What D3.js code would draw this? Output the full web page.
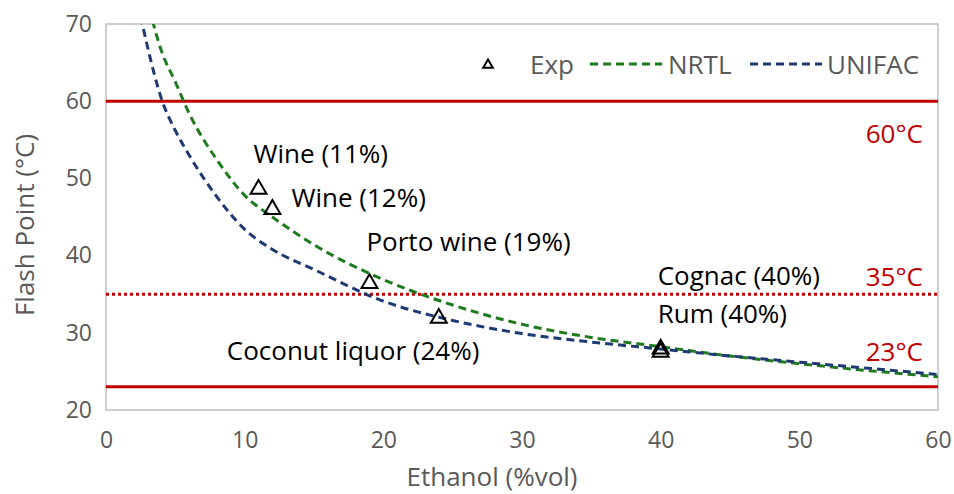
<!DOCTYPE html>
<html>
<head>
<meta charset="utf-8">
<script src="https://cdn.jsdelivr.net/npm/d3@7"></script>
<style>
  body { margin: 0; background: #fff; }
  text { font-family: "Open Sans", "Noto Sans", sans-serif; }
</style>
</head>
<body>
<svg width="954" height="494"></svg>
<script>
// ethanol content (%vol) and flash point (°C)
var nrtlX = [2.5, 3, 4, 5, 6, 8, 10, 12, 15, 20, 25, 30, 35, 40, 45, 50, 55, 60];
var nrtlY = [77, 73, 66.5, 62.5, 58.4, 52.4, 47.8, 45.0, 41.4, 36.9, 33.6, 31.1, 29.4, 28.2, 27.0, 26.0, 25.1, 24.3];

var unifacX = [2.5, 3, 4, 5, 6, 8, 10, 12, 15, 20, 25, 30, 35, 40, 45, 50, 55, 60];
var unifacY = [71, 67, 60.3, 56.2, 53.0, 47.6, 43.4, 40.8, 38.2, 34.1, 31.6, 29.9, 28.8, 27.9, 27.0, 26.2, 25.4, 24.6];

var expX = [11, 12, 19, 24, 40, 40];
var expY = [48.6, 46.0, 36.4, 31.9, 27.9, 27.5];
var expNames = ["Wine (11%)", "Wine (12%)", "Porto wine (19%)", "Coconut liquor (24%)", "Cognac (40%)", "Rum (40%)"];

var limits = [60, 35, 23];
var limitNames = ["60°C", "35°C", "23°C"];

var xTicks = [0, 10, 20, 30, 40, 50, 60];
var yTicks = [20, 30, 40, 50, 60, 70];

var svg = d3.select("svg"),
  width = +svg.attr("width"),
  height = +svg.attr("height");

var margin = {top: 24, right: 16, bottom: 84, left: 106};

var x = d3.scaleLinear().domain([0, 60]).range([margin.left, width - margin.right]);
var y = d3.scaleLinear().domain([20, 70]).range([height - margin.bottom, margin.top]);

var grey = "#595959",
  red = "#c00000",
  green = "#1d7a1d",
  navy = "#1f3a73";

svg.append("defs").append("clipPath")
  .attr("id", "plot")
  .append("rect")
  .attr("x", x(0)).attr("y", y(70))
  .attr("width", x(60) - x(0)).attr("height", y(20) - y(70));

// frame
svg.append("rect")
  .attr("x", x(0)).attr("y", y(70))
  .attr("width", x(60) - x(0)).attr("height", y(20) - y(70))
  .attr("fill", "none")
  .attr("stroke", "#bfbfbf")
  .attr("stroke-width", 1.5);

// axes, labels only
var xAxis = svg.append("g")
  .attr("transform", "translate(0," + y(20) + ")")
  .call(d3.axisBottom(x).tickValues(xTicks).tickSize(0).tickPadding(22));
var yAxis = svg.append("g")
  .attr("transform", "translate(" + x(0) + ",0)")
  .call(d3.axisLeft(y).tickValues(yTicks).tickSize(0).tickPadding(14));

[xAxis, yAxis].forEach(function(a) {
  a.select(".domain").remove();
  a.selectAll("text")
    .attr("fill", grey)
    .style("font-size", "23px")
    .style("font-family", "'Open Sans', sans-serif");
});

svg.append("text")
  .attr("x", (x(0) + x(60)) / 2 - 30)
  .attr("y", 476)
  .attr("text-anchor", "middle")
  .attr("dominant-baseline", "central")
  .attr("fill", grey)
  .style("font-size", "26px")
  .text("Ethanol (%vol)");

svg.append("text")
  .attr("transform", "translate(24,225) rotate(-90)")
  .attr("text-anchor", "middle")
  .attr("dominant-baseline", "central")
  .attr("fill", grey)
  .style("font-size", "26px")
  .text("Flash Point (°C)");

// limit lines
svg.append("g").selectAll("line")
  .data(limits)
  .enter().append("line")
  .attr("x1", x(0)).attr("x2", x(60))
  .attr("y1", function(d) { return y(d); })
  .attr("y2", function(d) { return y(d); })
  .attr("stroke", red)
  .attr("stroke-width", 3)
  .attr("stroke-dasharray", function(d) { return d === 35 ? "3,3" : null; });

svg.append("g").selectAll("text")
  .data(limits)
  .enter().append("text")
  .attr("x", x(60) - 15)
  .attr("y", function(d, i) { return y(d) + (i === 2 ? -36 : (i === 1 ? -18 : 32)); })
  .attr("text-anchor", "end")
  .attr("dominant-baseline", "central")
  .attr("fill", red)
  .style("font-size", "26px")
  .text(function(d, i) { return limitNames[i]; });

// model curves
var line = d3.line()
  .x(function(d) { return x(d[0]); })
  .y(function(d) { return y(d[1]); })
  .curve(d3.curveMonotoneX);

var curves = svg.append("g").attr("clip-path", "url(#plot)");

curves.append("path")
  .datum(d3.zip(nrtlX, nrtlY))
  .attr("d", line)
  .attr("fill", "none")
  .attr("stroke", green)
  .attr("stroke-width", 3)
  .attr("stroke-dasharray", "8,5");

curves.append("path")
  .datum(d3.zip(unifacX, unifacY))
  .attr("d", line)
  .attr("fill", "none")
  .attr("stroke", navy)
  .attr("stroke-width", 3)
  .attr("stroke-dasharray", "8,5");

// experimental points
var tri = d3.symbol().type(d3.symbolTriangle).size(110);
var exp = d3.zip(expX, expY);

svg.append("g").selectAll("path")
  .data(exp)
  .enter().append("path")
  .attr("transform", function(d) { return "translate(" + x(d[0]) + "," + y(d[1]) + ")"; })
  .attr("d", tri)
  .attr("fill", "none")
  .attr("stroke", "#000")
  .attr("stroke-width", 2);

// point labels (offsets from the marker)
var labelOffsets = [[-5, -36], [19, -12], [-3, -42], [-212, 32], [-3, -74], [-3, -39]];

svg.append("g").selectAll("text")
  .data(exp)
  .enter().append("text")
  .attr("x", function(d, i) { return x(d[0]) + labelOffsets[i][0]; })
  .attr("y", function(d, i) { return y(d[1]) + labelOffsets[i][1]; })
  .attr("dominant-baseline", "central")
  .attr("fill", "#000")
  .style("font-size", "26px")
  .text(function(d, i) { return expNames[i]; });

// legend
var legend = svg.append("g").attr("transform", "translate(0,64)");

legend.append("path")
  .attr("transform", "translate(488,1)")
  .attr("d", d3.symbol().type(d3.symbolTriangle).size(40))
  .attr("fill", "none")
  .attr("stroke", "#000")
  .attr("stroke-width", 2);

legend.append("line")
  .attr("x1", 590).attr("x2", 662)
  .attr("stroke", green).attr("stroke-width", 3).attr("stroke-dasharray", "8,5");

legend.append("line")
  .attr("x1", 750).attr("x2", 822)
  .attr("stroke", navy).attr("stroke-width", 3).attr("stroke-dasharray", "8,5");

legend.selectAll("text")
  .data([[530, "Exp"], [668, "NRTL"], [827, "UNIFAC"]])
  .enter().append("text")
  .attr("x", function(d) { return d[0]; })
  .attr("dominant-baseline", "central")
  .attr("fill", grey)
  .style("font-size", "26px")
  .text(function(d) { return d[1]; });
</script>
</body>
</html>
